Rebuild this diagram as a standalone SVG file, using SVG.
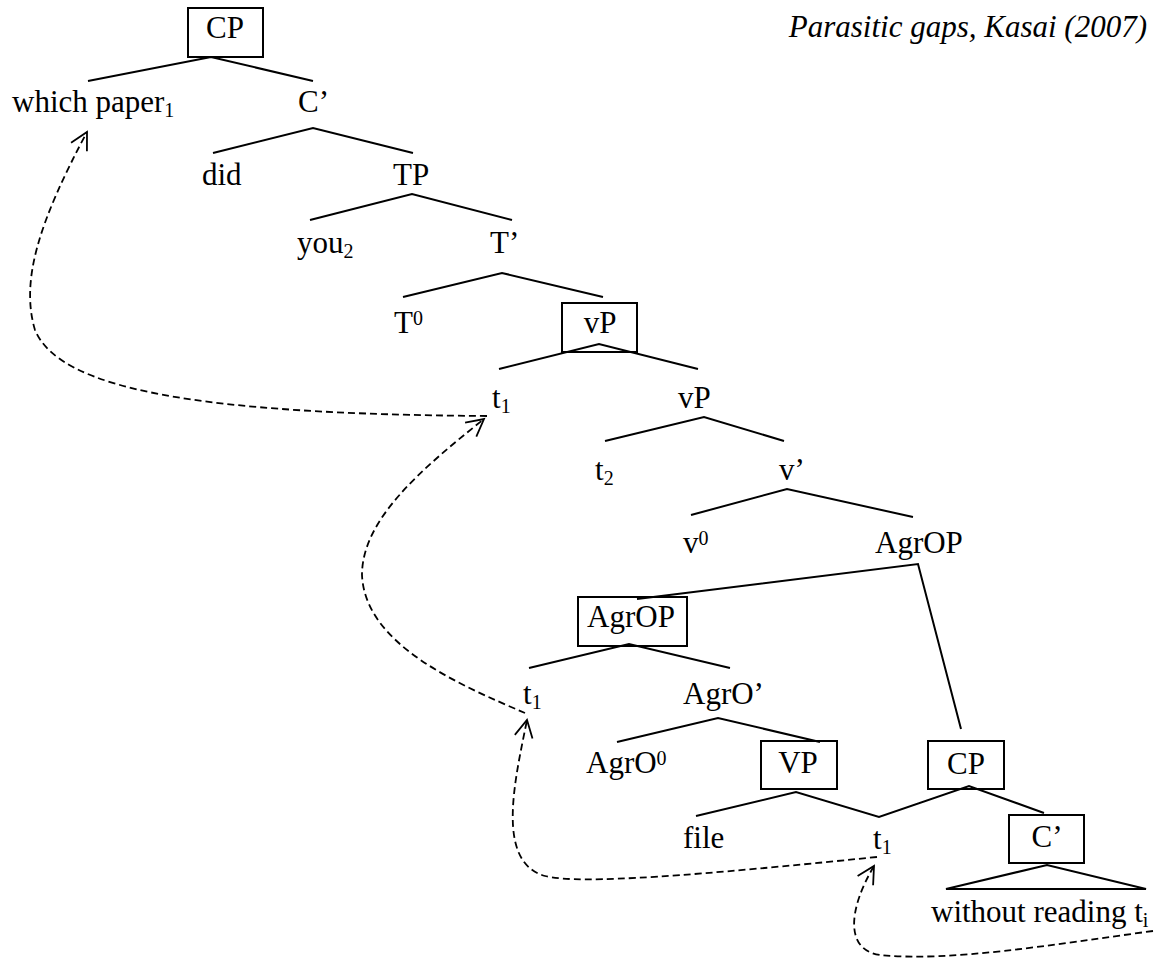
<svg xmlns="http://www.w3.org/2000/svg" width="1160" height="962" viewBox="0 0 1160 962">
<style>
text { font-family: "Liberation Serif", "Times New Roman", serif; font-size: 31px; fill: #000; }
.mid { text-anchor: middle; }
.title { font-style: italic; text-anchor: end; }
.box { fill: none; stroke: #000; stroke-width: 2; }
.edge { fill: none; stroke: #000; stroke-width: 2; }
.move { fill: none; stroke: #000; stroke-width: 1.8; stroke-dasharray: 7 4; marker-end: url(#open); }
</style>
<defs>
<marker id="open" markerUnits="userSpaceOnUse" markerWidth="40" markerHeight="40" refX="0" refY="0" viewBox="-20 -20 40 40" orient="auto" overflow="visible">
<path d="M -17 -9 L 0 0 L -17 9" fill="none" stroke="#000" stroke-width="1.8" stroke-dasharray="none"/>
</marker>
</defs>
<rect width="1160" height="962" fill="#fff"/>
<text class="title" x="1147" y="37">Parasitic gaps, Kasai (2007)</text>

<g id="connectors">
<path class="edge" d="M 88 81 L 211 57 L 313 81"/>
<path class="edge" d="M 213 153 L 313 128 L 413 153"/>
<path class="edge" d="M 310 220 L 412 194 L 512 220"/>
<path class="edge" d="M 403 297 L 502 273 L 603 297"/>
<path class="edge" d="M 499 369 L 599 344 L 698 369"/>
<path class="edge" d="M 605 441 L 704 417 L 784 441"/>
<path class="edge" d="M 691 515 L 787 489 L 913 517"/>
<path class="edge" d="M 637 599 L 918 564 L 961 729"/>
<path class="edge" d="M 529 668 L 629 644 L 730 668"/>
<path class="edge" d="M 617 742 L 718 718 L 820 742"/>
<path class="edge" d="M 696 816 L 796 792 L 879 817 L 969 786 L 1044 813"/>
<path class="edge" d="M 946 889 L 1047 865 L 1146 889 Z"/>
<path class="move" d="M 487 416 C 200 414, 60 390, 35 330 C 20 280, 40 220, 87 132"/>
<path class="move" d="M 525 713 C 460 685, 365 645, 362 575 C 362 520, 420 470, 484 419"/>
<path class="move" d="M 877 857 C 700 875, 580 885, 545 876 C 495 862, 515 780, 527 720"/>
<path class="move" d="M 1153 931 C 1050 945, 950 962, 880 955 C 845 950, 848 910, 874 866"/>
</g>

<g id="n-cp-top"><rect class="box" x="188" y="8" width="75" height="49"/><text class="mid" x="225" y="38">CP</text></g>
<g id="n-which-paper"><text x="12" y="112">which paper<tspan font-size="20" dy="5">1</tspan></text></g>
<g id="n-cbar"><text x="298" y="112">C’</text></g>
<g id="n-did"><text x="202" y="185">did</text></g>
<g id="n-tp"><text x="393" y="185">TP</text></g>
<g id="n-you"><text x="297" y="253">you<tspan font-size="20" dy="5">2</tspan></text></g>
<g id="n-tbar"><text x="490" y="253">T’</text></g>
<g id="n-t0"><text x="394" y="333">T<tspan font-size="20" dy="-8">0</tspan></text></g>
<g id="n-vp-box"><rect class="box" x="562" y="303" width="75" height="49"/><text class="mid" x="600" y="333">vP</text></g>
<g id="n-t1-a"><text x="492" y="408">t<tspan font-size="20" dy="5">1</tspan></text></g>
<g id="n-vp2"><text x="678" y="408">vP</text></g>
<g id="n-t2"><text x="595" y="480">t<tspan font-size="20" dy="5">2</tspan></text></g>
<g id="n-vbar"><text x="779" y="480">v’</text></g>
<g id="n-v0"><text x="683" y="553">v<tspan font-size="20" dy="-8">0</tspan></text></g>
<g id="n-agrop"><text x="875" y="553">AgrOP</text></g>
<g id="n-agrop-box"><rect class="box" x="578" y="597" width="109" height="49"/><text class="mid" x="631" y="627">AgrOP</text></g>
<g id="n-t1-b"><text x="523" y="704">t<tspan font-size="20" dy="5">1</tspan></text></g>
<g id="n-agrobar"><text x="683" y="704">AgrO’</text></g>
<g id="n-agro0"><text x="586" y="773">AgrO<tspan font-size="20" dy="-8">0</tspan></text></g>
<g id="n-vp-cap"><rect class="box" x="761" y="741" width="76" height="48"/><text class="mid" x="798" y="773">VP</text></g>
<g id="n-cp-low"><rect class="box" x="928" y="741" width="76" height="48"/><text class="mid" x="966" y="774">CP</text></g>
<g id="n-file"><text x="683" y="848">file</text></g>
<g id="n-t1-c"><text x="873" y="849">t<tspan font-size="20" dy="5">1</tspan></text></g>
<g id="n-cbar-box"><rect class="box" x="1009" y="815" width="75" height="48"/><text class="mid" x="1047" y="847">C’</text></g>
<g id="n-without"><text x="931" y="922">without reading t<tspan font-size="20" dy="5">i</tspan></text></g>
</svg>
